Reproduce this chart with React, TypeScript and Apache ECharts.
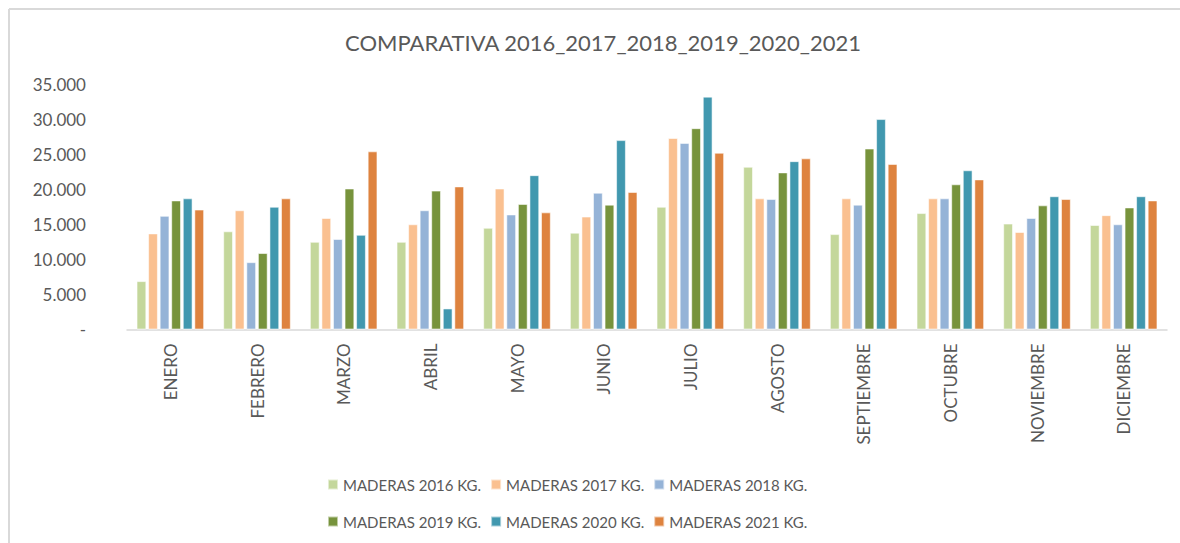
import React, { useEffect, useRef } from "react";
import * as echarts from "echarts";

const months = ["ENERO", "FEBRERO", "MARZO", "ABRIL", "MAYO", "JUNIO", "JULIO", "AGOSTO", "SEPTIEMBRE", "OCTUBRE", "NOVIEMBRE", "DICIEMBRE"];
const seriesNames = ["MADERAS 2016 KG.", "MADERAS 2017 KG.", "MADERAS 2018 KG.", "MADERAS 2019 KG.", "MADERAS 2020 KG.", "MADERAS 2021 KG."];
const colors = ["#c4d79b", "#fac090", "#95b3d7", "#77933c", "#4198af", "#de833f"];

const v2016 = [6900, 14000, 12500, 12500, 14500, 13800, 17500, 23200, 13600, 16600, 15100, 14900];
const v2017 = [13700, 17000, 15900, 15000, 20100, 16100, 27300, 18700, 18700, 18700, 13900, 16300];
const v2018 = [16200, 9600, 12900, 17000, 16400, 19500, 26600, 18600, 17800, 18700, 15900, 15000];
const v2019 = [18400, 10900, 20100, 19800, 17900, 17800, 28700, 22400, 25800, 20700, 17700, 17400];
const v2020 = [18700, 17500, 13500, 3000, 22000, 27000, 33200, 24000, 30000, 22700, 19000, 19000];
const v2021 = [17100, 18700, 25400, 20400, 16700, 19600, 25200, 24400, 23600, 21400, 18600, 18400];
const allValues = [v2016, v2017, v2018, v2019, v2020, v2021];

const FONT = "Lato, 'Noto Sans', sans-serif";
const GRAY = "#595959";

export default function App() {
  const ref = useRef<HTMLDivElement>(null);
  useEffect(() => {
    if (!ref.current) return;
    const chart = echarts.init(ref.current, undefined, { renderer: "svg" });
    const legendCommon = {
      left: 322,
      itemWidth: 10,
      itemHeight: 10,
      itemGap: 9,
      icon: "rect",
      textStyle: { color: GRAY, fontSize: 15, fontFamily: FONT },
    };
    chart.setOption({
      animation: false,
      backgroundColor: "#ffffff",
      title: {
        text: "COMPARATIVA 2016_2017_2018_2019_2020_2021",
        left: 340,
        top: 26,
        textStyle: { color: GRAY, fontSize: 22, fontWeight: "normal", fontFamily: FONT },
      },
      legend: [
        { ...legendCommon, top: 472, data: seriesNames.slice(0, 3) },
        { ...legendCommon, top: 509, data: seriesNames.slice(3, 6) },
      ],
      grid: { left: 127, right: 13, top: 84, bottom: 213.5, containLabel: false },
      xAxis: {
        type: "category",
        data: months,
        axisLine: { lineStyle: { color: "#d9d9d9", width: 1.5 } },
        axisTick: { show: false },
        axisLabel: { rotate: 90, color: GRAY, fontSize: 17, fontFamily: FONT, margin: 14, interval: 0 },
      },
      yAxis: {
        type: "value",
        min: 0,
        max: 35000,
        interval: 5000,
        splitLine: { show: false },
        axisLine: { show: false },
        axisTick: { show: false },
        axisLabel: {
          color: GRAY,
          fontSize: 17,
          fontFamily: FONT,
          margin: 41,
          formatter: (v: number) => (v === 0 ? "-" : v.toLocaleString("de-DE")),
        },
      },
      series: seriesNames.map((name, i) => ({
        name,
        type: "bar",
        data: allValues[i],
        barCategoryGap: "22%",
        barGap: "18%",
        itemStyle: { color: colors[i], borderColor: "rgba(255,255,255,0.55)", borderWidth: 1 },
      })),
      graphic: [
        {
          type: "line",
          shape: { x1: 9, y1: 9, x2: 1180, y2: 9 },
          style: { stroke: "#d9d9d9", lineWidth: 2 },
          silent: true,
        },
        {
          type: "line",
          shape: { x1: 9, y1: 9, x2: 9, y2: 543 },
          style: { stroke: "#d9d9d9", lineWidth: 2 },
          silent: true,
        },
      ],
    });
    return () => chart.dispose();
  }, []);
  return <div ref={ref} style={{ width: 1180, height: 543, position: "absolute", left: 0, top: 0 }} />;
}
